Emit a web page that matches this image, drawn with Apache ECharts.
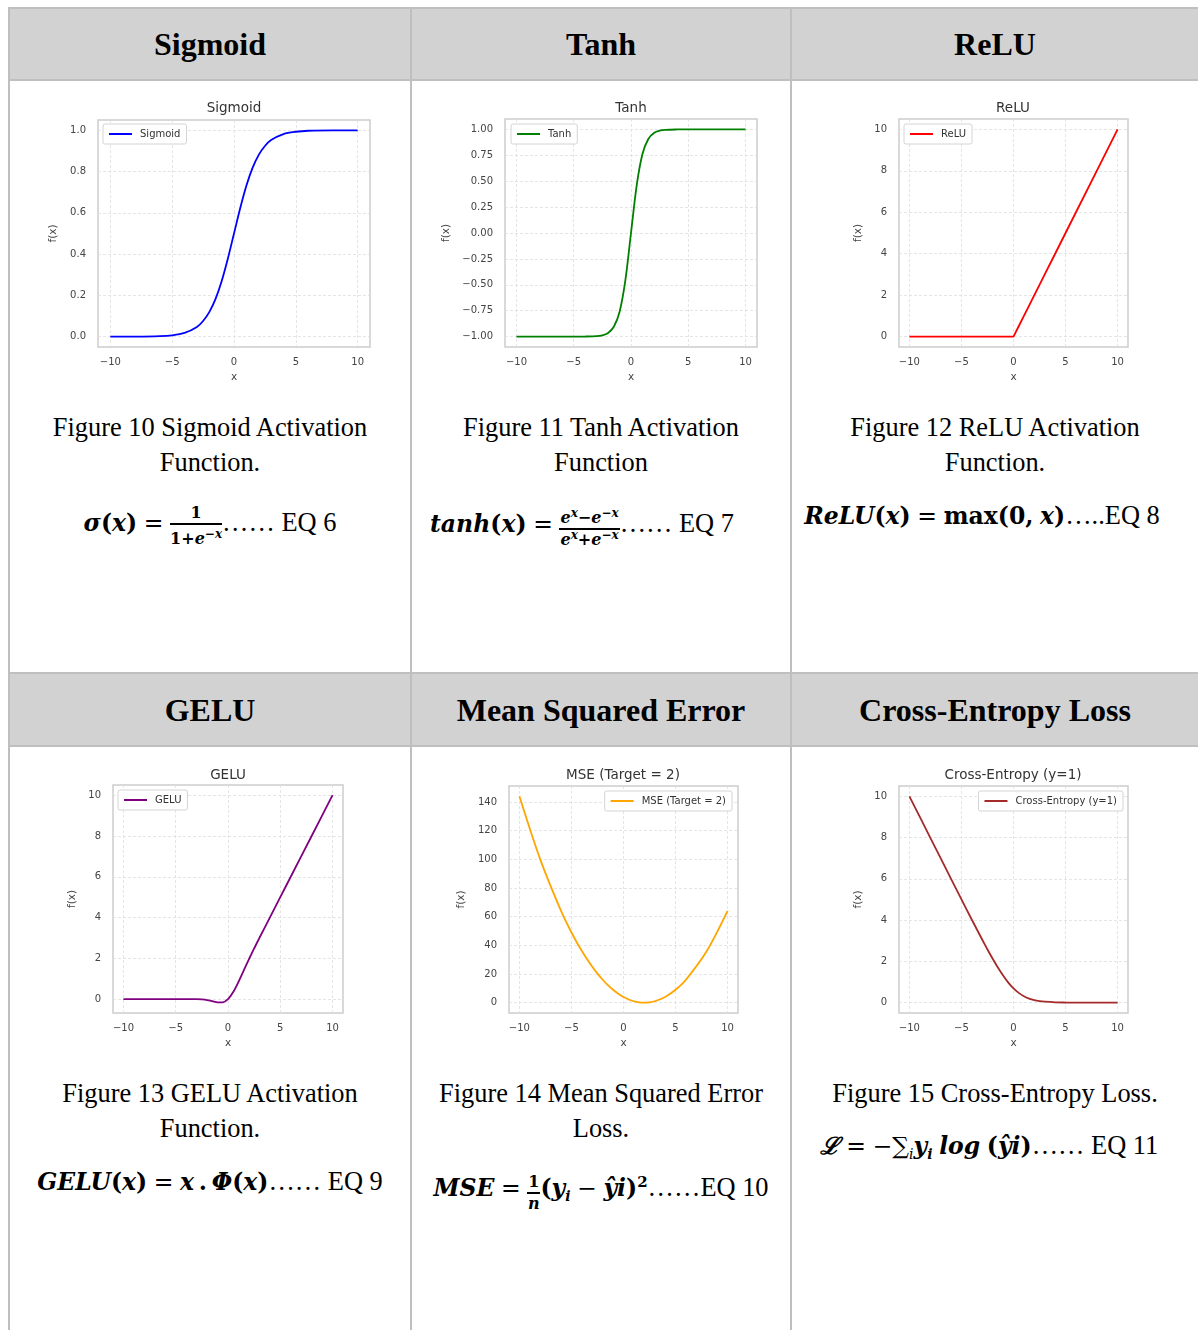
<!DOCTYPE html>
<html>
<head>
<meta charset="utf-8">
<script src="https://cdn.jsdelivr.net/npm/echarts@6/dist/echarts.min.js"></script>
<style>
  body { margin: 0; background: #fff; width: 1198px; height: 1330px; overflow: hidden; position: relative; }
  .hdr { position: absolute; left: 9px; width: 1195px; background: #d2d2d2; }
  .hline { position: absolute; left: 8px; width: 1195px; height: 2px; background: #bfbfbf; }
  .vline { position: absolute; top: 8px; width: 2px; height: 1330px; background: #bfbfbf; }
  .htxt { position: absolute; font-family: 'Liberation Serif', serif; font-weight: bold; font-size: 32px; text-align: center; color: #000; line-height: 40px; }
  .cap { position: absolute; font-family: 'Liberation Serif', serif; font-size: 26.4px; text-align: center; line-height: 35px; color: #000; }
  .eq { position: absolute; font-family: 'Liberation Serif', serif; font-size: 26.4px; text-align: center; white-space: nowrap; color: #000; line-height: 44px; }
  .mi { font-family: 'DejaVu Serif', serif; font-weight: bold; font-style: italic; font-size: 23.5px; }
  .mb { font-family: 'DejaVu Serif', serif; font-weight: bold; font-size: 23.5px; }
  .mo { font-family: 'DejaVu Serif', serif; font-size: 23.5px; }
  .frac { display: inline-block; vertical-align: -13px; text-align: center; line-height: 18px; }
  .frac .n { display: block; border-bottom: 2px solid #000; padding: 0 1px 1px; }
  .frac .d { display: block; padding-top: 1px; }
  .fs { font-family: 'DejaVu Serif', serif; font-weight: bold; font-style: italic; font-size: 16px; }
  .fsb { font-family: 'DejaVu Serif', serif; font-weight: bold; font-size: 16px; }
  sup.s { font-size: 12px; vertical-align: 6px; line-height: 0; }
  sub.s { font-size: 14px; vertical-align: -5px; line-height: 0; }
  sup.t { font-size: 15px; vertical-align: 9px; line-height: 0; }
  .chart { position: absolute; }
</style>
</head>
<body>
<div class="hdr" style="top:8px;height:72px"></div>
<div class="hdr" style="top:673px;height:73px"></div>
<div class="hline" style="top:7px"></div>
<div class="hline" style="top:79px"></div>
<div class="hline" style="top:672px"></div>
<div class="hline" style="top:745px"></div>
<div class="vline" style="left:8px"></div>
<div class="vline" style="left:410px"></div>
<div class="vline" style="left:790px"></div>

<div id="headers"></div>
<div id="captions"></div>

<div class="eq" style="left:10px;width:400px;top:500px">
  <span class="mi">σ</span><span class="mb">(</span><span class="mi">x</span><span class="mb">)</span>
  <span class="mo">=</span>
  <span class="frac"><span class="n fsb">1</span><span class="d"><span class="fsb">1+</span><span class="fs">e<sup class="s">−x</sup></span></span></span>…… EQ 6
</div>
<div class="eq" style="left:412px;width:340px;top:501px">
  <span class="mi">tanh</span><span class="mb">(</span><span class="mi">x</span><span class="mb">)</span>
  <span class="mo">=</span>
  <span class="frac"><span class="n fs">e<sup class="s">x</sup>−e<sup class="s">−x</sup></span><span class="d fs">e<sup class="s">x</sup>+e<sup class="s">−x</sup></span></span>…… EQ 7
</div>
<div class="eq" style="left:792px;width:380px;top:493px">
  <span class="mi">ReLU</span><span class="mb">(</span><span class="mi">x</span><span class="mb">)</span>
  <span class="mo">=</span>
  <span class="mb">max(0,</span> <span class="mi">x</span><span class="mb">)</span>…..EQ 8
</div>
<div class="eq" style="left:10px;width:400px;top:1159px">
  <span class="mi">GELU</span><span class="mb">(</span><span class="mi">x</span><span class="mb">)</span>
  <span class="mo">=</span>
  <span class="mi">x</span><span class="mb">&thinsp;.&thinsp;</span><span class="mi">Φ</span><span class="mb">(</span><span class="mi">x</span><span class="mb">)</span>…… EQ 9
</div>
<div class="eq" style="left:412px;width:378px;top:1165px">
  <span class="mi">MSE</span>
  <span class="mo">=</span>
  <span class="frac"><span class="n fsb">1</span><span class="d fs">n</span></span><span class="mb">(</span><span class="mi">y<sub class="s">i</sub></span>
  <span class="mo">−</span>
  <span class="mi">ŷi</span><span class="mb">)<sup class="t">2</sup></span>……EQ 10
</div>
<div class="eq" style="left:792px;width:394px;top:1123px">
  <span class="mi">ℒ</span>
  <span class="mo">=</span>
  <span class="mo">−∑<sub class="s"><i>i</i></sub></span><span class="mi">y<sub class="s">i</sub></span>
  <span class="mi">log</span> <span class="mb">(</span><span class="mi">ŷi</span><span class="mb">)</span>…… EQ 11
</div>

<div id="c1" class="chart"></div>
<div id="c2" class="chart"></div>
<div id="c3" class="chart"></div>
<div id="c4" class="chart"></div>
<div id="c5" class="chart"></div>
<div id="c6" class="chart"></div>

<script>
// values
const xs = [-10, -8, -6, -5, -4, -3, -2.5, -2, -1.5, -1, -0.5, 0, 0.5, 1, 1.5, 2, 2.5, 3, 4, 5, 6, 8, 10]
const sigmoidY = [0.0, 0.0003, 0.0025, 0.0067, 0.018, 0.047, 0.076, 0.119, 0.182, 0.269, 0.378, 0.5, 0.622, 0.731, 0.818, 0.881, 0.924, 0.953, 0.982, 0.993, 0.998, 1.0, 1.0]
const tanhY = [-1, -1, -1, -1, -0.999, -0.995, -0.987, -0.964, -0.905, -0.762, -0.462, 0, 0.462, 0.762, 0.905, 0.964, 0.987, 0.995, 0.999, 1, 1, 1, 1]
const reluY = [0, 0, 0, 0, 0, 0, 0, 0, 0, 0, 0, 0, 0.5, 1, 1.5, 2, 2.5, 3, 4, 5, 6, 8, 10]
const geluY = [0, 0, 0, 0, 0, -0.004, -0.016, -0.045, -0.1, -0.159, -0.154, 0, 0.346, 0.841, 1.4, 1.955, 2.484, 2.996, 4.0, 5, 6, 8, 10]
const mseY = [144, 100, 64, 49, 36, 25, 20.25, 16, 12.25, 9, 6.25, 4, 2.25, 1, 0.25, 0, 0.25, 1, 4, 9, 16, 36, 64]
const ceY = [10, 8, 6.0025, 5.007, 4.018, 3.049, 2.579, 2.127, 1.701, 1.313, 0.974, 0.693, 0.474, 0.313, 0.201, 0.127, 0.079, 0.049, 0.018, 0.007, 0.0025, 0.0003, 0]

const xTicks = [-10, -5, 0, 5, 10]
const sigmoidTicks = [0, 0.2, 0.4, 0.6, 0.8, 1.0]
const tanhTicks = [-1, -0.75, -0.5, -0.25, 0, 0.25, 0.5, 0.75, 1]
const tenTicks = [0, 2, 4, 6, 8, 10]
const mseTicks = [0, 20, 40, 60, 80, 100, 120, 140]

const headers = ['Sigmoid', 'Tanh', 'ReLU', 'GELU', 'Mean Squared Error', 'Cross-Entropy Loss']
const captions = [
  'Figure 10 Sigmoid Activation<br>Function.',
  'Figure 11 Tanh Activation<br>Function',
  'Figure 12 ReLU Activation<br>Function.',
  'Figure 13 GELU Activation<br>Function.',
  'Figure 14 Mean Squared Error<br>Loss.',
  'Figure 15 Cross-Entropy Loss.'
]

// table columns: left, width
const cols = [[10, 400], [412, 378], [792, 406]]
const hdrTop = [24, 690]
const capTop = [410, 1076]

headers.forEach((h, i) => {
  const c = cols[i % 3]
  const d = document.createElement('div')
  d.className = 'htxt'
  d.style.left = c[0] + 'px'
  d.style.width = c[1] + 'px'
  d.style.top = hdrTop[Math.floor(i / 3)] + 'px'
  d.textContent = h
  document.getElementById('headers').appendChild(d)
})
captions.forEach((t, i) => {
  const c = cols[i % 3]
  const d = document.createElement('div')
  d.className = 'cap'
  d.style.left = c[0] + 'px'
  d.style.width = c[1] + 'px'
  d.style.top = capTop[Math.floor(i / 3)] + 'px'
  d.innerHTML = t
  document.getElementById('captions').appendChild(d)
})

const charts = [
  {id: 'c1', title: 'Sigmoid', name: 'Sigmoid', ys: sigmoidY, color: '#0000ff', smooth: true,
    yMin: -0.05, yMax: 1.05, yTicks: sigmoidTicks, digits: 1,
    box: [10, 81, 400, 320], grid: [88, 39, 272, 227], titlePos: [224, 27], yGap: 37,
    legend: {left: 93, top: 43}},
  {id: 'c2', title: 'Tanh', name: 'Tanh', ys: tanhY, color: '#008000', smooth: true,
    yMin: -1.1, yMax: 1.1, yTicks: tanhTicks, digits: 2,
    box: [412, 81, 378, 320], grid: [93, 38, 252, 228], titlePos: [219, 27], yGap: 46,
    legend: {left: 99, top: 43}},
  {id: 'c3', title: 'ReLU', name: 'ReLU', ys: reluY, color: '#ff0000', smooth: false,
    yMin: -0.5, yMax: 10.5, yTicks: tenTicks, digits: 0,
    box: [792, 81, 406, 320], grid: [107, 38, 229, 228], titlePos: [221, 27], yGap: 27,
    legend: {left: 112, top: 43}},
  {id: 'c4', title: 'GELU', name: 'GELU', ys: geluY, color: '#800080', smooth: true,
    yMin: -0.68, yMax: 10.5, yTicks: tenTicks, digits: 0,
    box: [10, 747, 400, 320], grid: [103, 38, 230, 228], titlePos: [218, 28], yGap: 24,
    legend: {left: 108, top: 43}},
  {id: 'c5', title: 'MSE (Target = 2)', name: 'MSE (Target = 2)', ys: mseY, color: '#ffa500', smooth: true,
    yMin: -7.2, yMax: 151.2, yTicks: mseTicks, digits: 0,
    box: [412, 747, 378, 320], grid: [97, 39, 229, 227], titlePos: [211, 28], yGap: 32,
    legend: {right: 58, top: 44}},
  {id: 'c6', title: 'Cross-Entropy (y=1)', name: 'Cross-Entropy (y=1)', ys: ceY, color: '#a52a2a', smooth: true,
    yMin: -0.5, yMax: 10.5, yTicks: tenTicks, digits: 0,
    box: [792, 747, 406, 320], grid: [107, 39, 229, 227], titlePos: [221, 28], yGap: 27,
    legend: {right: 75, top: 44}}
]

const font = 'DejaVu Sans'
const fmt = digits => v => (digits ? Number(v).toFixed(digits) : String(v)).replace('-', '\u2212')

function drawChart(cfg) {
  const el = document.getElementById(cfg.id)
  el.style.left = cfg.box[0] + 'px'
  el.style.top = cfg.box[1] + 'px'
  el.style.width = cfg.box[2] + 'px'
  el.style.height = cfg.box[3] + 'px'
  const myChart = echarts.init(el)

  const option = {
    animation: false,
    graphic: [{
      type: 'text',
      x: cfg.titlePos[0],
      y: cfg.titlePos[1],
      style: {
        text: cfg.title,
        fill: '#333',
        font: '13.5px "DejaVu Sans"',
        align: 'center',
        verticalAlign: 'middle'
      }
    }],
    grid: {
      left: cfg.grid[0],
      top: cfg.grid[1],
      width: cfg.grid[2],
      height: cfg.grid[3],
      show: true,
      borderColor: '#cdcdcd',
      borderWidth: 1.5,
      backgroundColor: '#fff'
    },
    legend: Object.assign({
      data: [{name: cfg.name, icon: 'rect'}],
      itemWidth: 23,
      itemHeight: 2,
      padding: [5, 6, 5, 6],
      borderColor: '#d4d4d4',
      borderWidth: 1,
      borderRadius: 2,
      backgroundColor: '#fff',
      textStyle: {fontSize: 10, color: '#333', fontFamily: font, padding: [0, 0, 0, 3]}
    }, cfg.legend),
    xAxis: {
      type: 'value',
      min: -11,
      max: 11,
      name: 'x',
      nameLocation: 'middle',
      nameGap: 25,
      nameTextStyle: {fontSize: 10.5, color: '#444', fontFamily: font},
      axisLine: {show: false},
      axisTick: {show: false, customValues: xTicks},
      axisLabel: {customValues: xTicks, formatter: fmt(0), fontSize: 10, color: '#444', fontFamily: font, margin: 10},
      splitLine: {show: true, lineStyle: {type: [3, 2], color: '#dedede', width: 0.8}}
    },
    yAxis: {
      type: 'value',
      min: cfg.yMin,
      max: cfg.yMax,
      name: 'f(x)',
      nameLocation: 'middle',
      nameGap: cfg.yGap,
      nameTextStyle: {fontSize: 10.5, color: '#444', fontFamily: font},
      axisLine: {show: false},
      axisTick: {show: false, customValues: cfg.yTicks},
      axisLabel: {customValues: cfg.yTicks, formatter: fmt(cfg.digits), fontSize: 10, color: '#444', fontFamily: font, margin: 12},
      splitLine: {show: true, lineStyle: {type: [3, 2], color: '#dedede', width: 0.8}}
    },
    series: [{
      name: cfg.name,
      type: 'line',
      data: xs.map((x, i) => [x, cfg.ys[i]]),
      symbol: 'none',
      smooth: cfg.smooth ? 0.3 : false,
      lineStyle: {color: cfg.color, width: 1.8},
      itemStyle: {color: cfg.color}
    }]
  }

  myChart.setOption(option)
}

charts.forEach(drawChart)
</script>
</body>
</html>
